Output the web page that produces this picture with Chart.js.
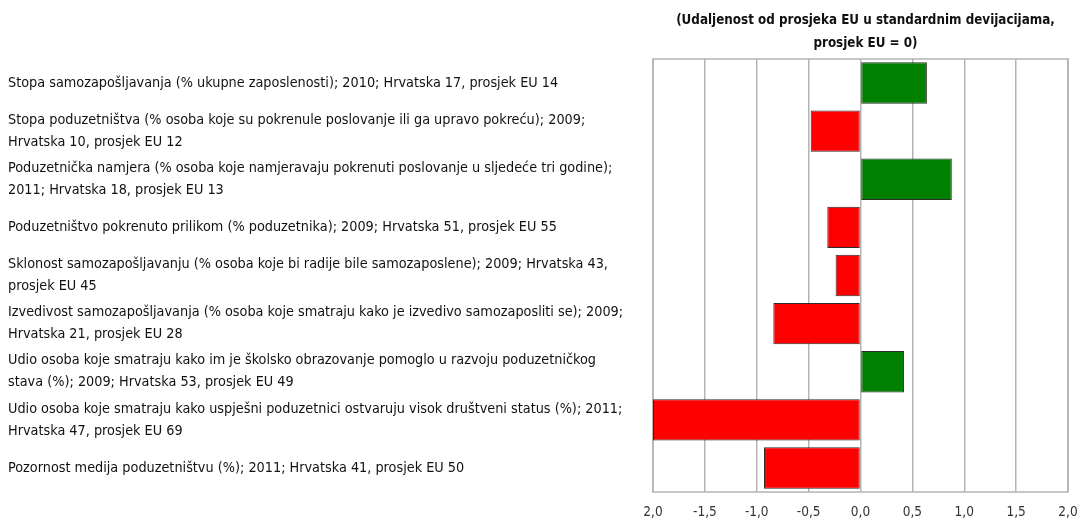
<!DOCTYPE html>
<html>
<head>
<meta charset="utf-8">
<script src="https://cdn.jsdelivr.net/npm/chart.js@4/dist/chart.umd.min.js"></script>
<style>
  html, body { margin: 0; padding: 0; background: #fff; }
  #wrap { width: 1080px; height: 521px; position: relative; }
</style>
</head>
<body>
<div id="wrap"><canvas id="chart"></canvas></div>
<script>
const categories = [
    ["Stopa samozapošljavanja (% ukupne zaposlenosti); 2010; Hrvatska 17, prosjek EU 14"],
    ["Stopa poduzetništva (% osoba koje su pokrenule poslovanje ili ga upravo pokreću); 2009;", "Hrvatska 10, prosjek EU 12"],
    ["Poduzetnička namjera (% osoba koje namjeravaju pokrenuti poslovanje u sljedeće tri godine);", "2011; Hrvatska 18, prosjek EU 13"],
    ["Poduzetništvo pokrenuto prilikom (% poduzetnika); 2009; Hrvatska 51, prosjek EU 55"],
    ["Sklonost samozapošljavanju (% osoba koje bi radije bile samozaposlene); 2009; Hrvatska 43,", "prosjek EU 45"],
    ["Izvedivost samozapošljavanja (% osoba koje smatraju kako je izvedivo samozaposliti se); 2009;", "Hrvatska 21, prosjek EU 28"],
    ["Udio osoba koje smatraju kako im je školsko obrazovanje pomoglo u razvoju poduzetničkog", "stava (%); 2009; Hrvatska 53, prosjek EU 49"],
    ["Udio osoba koje smatraju kako uspješni poduzetnici ostvaruju visok društveni status (%); 2011;", "Hrvatska 47, prosjek EU 69"],
    ["Pozornost medija poduzetništvu (%); 2011; Hrvatska 41, prosjek EU 50"]
];

const distance = [0.64, -0.48, 0.88, -0.32, -0.24, -0.84, 0.42, -2.0, -0.93];

const xTickValues = [-2, -1.5, -1, -0.5, 0, 0.5, 1, 1.5, 2];
const xTickLabels = ["2,0", "-1,5", "-1,0", "-0,5", "0,0", "0,5", "1,0", "1,5", "2,0"];

const titleLines = ["(Udaljenost od prosjeka EU u standardnim devijacijama,", "prosjek EU = 0)"];

const FONT = "'Liberation Sans Narrow', 'DejaVu Sans Condensed', 'Noto Sans', sans-serif";

// naslov iznad područja grafa + okvir
const frameAndTitle = {
    id: "frameAndTitle",
    beforeDatasetsDraw(chart) {
        const a = chart.chartArea;
        const ctx = chart.ctx;
        ctx.save();
        ctx.strokeStyle = "#b4b4b4";
        ctx.lineWidth = 1.5;
        ctx.strokeRect(a.left, a.top, a.right - a.left, a.bottom - a.top);
        ctx.restore();
    },
    afterDraw(chart) {
        const a = chart.chartArea;
        const ctx = chart.ctx;
        ctx.save();
        ctx.fillStyle = "#111";
        ctx.font = "bold 13.3px " + FONT;
        ctx.textAlign = "center";
        ctx.textBaseline = "middle";
        const cx = (a.left + a.right) / 2 + 5;
        ctx.fillText(titleLines[0], cx, 21);
        ctx.fillText(titleLines[1], cx, 44);
        ctx.restore();
    }
};

const ctx = document.getElementById("chart");

new Chart(ctx, {
    type: "bar",
    data: {
        labels: categories,
        datasets: [
            {
                data: distance,
                backgroundColor: (c) => (c.raw >= 0 ? "#008000" : "#ff0000"),
                borderColor: "#2b2b2b",
                borderWidth: 1,
                borderSkipped: false,
                barPercentage: 0.86,
                categoryPercentage: 1.0,
            },
        ],
    },
    options: {
        indexAxis: "y",
        responsive: true,
        maintainAspectRatio: false,
        animation: false,
        layout: { padding: { left: 8, right: 12, top: 59, bottom: 0 } },
        plugins: {
            legend: { display: false },
            tooltip: { enabled: false },
            title: { display: false },
        },
        scales: {
            x: {
                min: -2,
                max: 2,
                afterBuildTicks(scale) {
                    scale.ticks = xTickValues.map((v) => ({ value: v }));
                },
                afterFit(scale) {
                    scale.height = 29;
                    scale.paddingRight = 0;
                    scale.paddingLeft = 0;
                },
                ticks: {
                    color: "#333",
                    font: { family: FONT, size: 13.5 },
                    padding: 12,
                    callback: (v, i) => xTickLabels[i],
                    maxRotation: 0,
                },
                grid: {
                    color: "#b4b4b4",
                    lineWidth: 1.5,
                    drawTicks: false,
                },
                border: { display: false },
            },
            y: {
                afterFit(scale) {
                    scale.width = 645;
                },
                ticks: {
                    crossAlign: "far",
                    color: "#111",
                    font: { family: FONT, size: 14.3, lineHeight: 1.54 },
                    padding: 0,
                    autoSkip: false,
                },
                grid: { display: false, drawTicks: false },
                border: { display: false },
            },
        },
    },
    plugins: [frameAndTitle],
});
</script>
</body>
</html>
